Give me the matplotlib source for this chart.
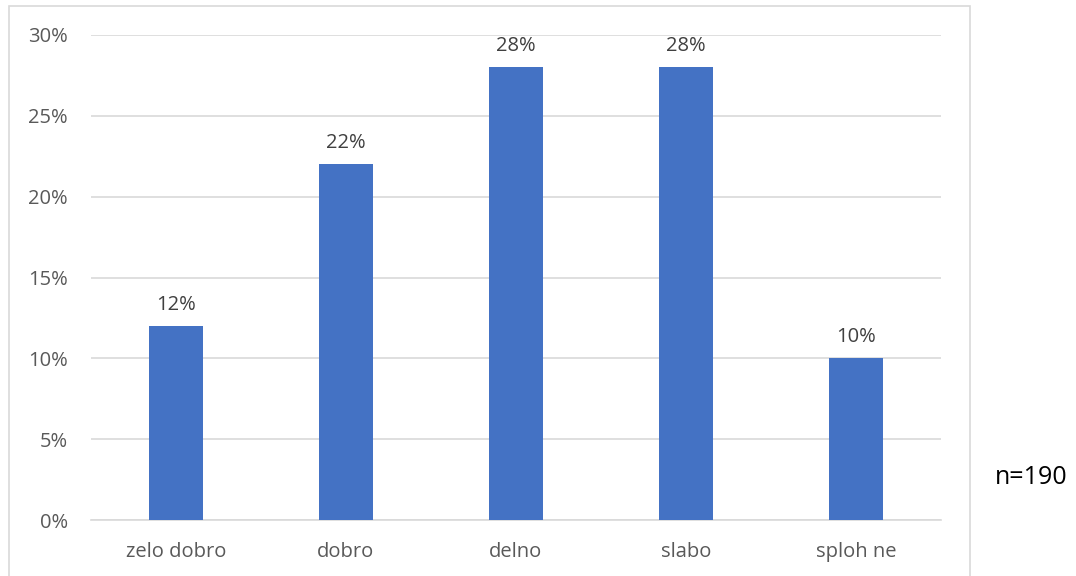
import matplotlib.pyplot as plt
from matplotlib.patches import Rectangle
from matplotlib.ticker import PercentFormatter

categories = ['zelo dobro', 'dobro', 'delno', 'slabo', 'sploh ne']
values = [12, 22, 28, 28, 10]
yticks = [0, 5, 10, 15, 20, 25, 30]
n_label = 'n=190'

plt.rcParams['font.family'] = ['Open Sans', 'DejaVu Sans']

W, H = 1076, 576
fig = plt.figure(figsize=(W / 100, H / 100), dpi=100)

# okvir grafikona
fig.patches.append(Rectangle((9 / W, -0.05), (970 - 9) / W, 1.05 - 6 / H,
                             transform=fig.transFigure, fill=False,
                             edgecolor='#d9d9d9', linewidth=1.2))

ax = fig.add_axes([91 / W, (H - 520) / H, (941 - 91) / W, (520 - 35) / H])
x = range(len(categories))
bars = ax.bar(x, values, width=0.315, color='#4472c4', zorder=3)

ax.set_xlim(-0.5, len(categories) - 0.5)
ax.set_ylim(0, 30)
ax.set_yticks(yticks)
ax.yaxis.set_major_formatter(PercentFormatter(decimals=0))
ax.set_xticks(list(x))
ax.set_xticklabels(categories)
ax.grid(axis='y', color='#d9d9d9', linewidth=1.2, zorder=0)
for s in ['top', 'right', 'left']:
    ax.spines[s].set_visible(False)
ax.spines['bottom'].set_color('#d9d9d9')
ax.spines['bottom'].set_linewidth(1.2)
ax.tick_params(axis='both', length=0, labelsize=14.5, colors='#595959')
ax.tick_params(axis='y', pad=16.5)
ax.tick_params(axis='x', pad=16)

for b, v in zip(bars, values):
    ax.annotate(f'{v}%', (b.get_x() + b.get_width() / 2, v), xytext=(0, 8),
                textcoords='offset points', ha='center', va='bottom',
                fontsize=14.5, color='#404040')

fig.text(1031 / W, 1 - 478 / H, n_label, ha='center', va='center',
         fontsize=18, color='black')

fig.savefig('out.png', dpi=100)
